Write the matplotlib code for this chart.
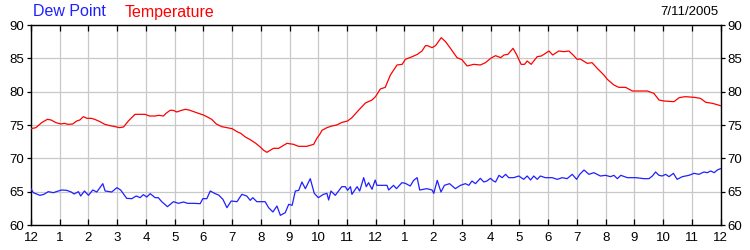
import matplotlib
matplotlib.use("Agg")
import matplotlib.pyplot as plt

# ---- data (hours since midnight, degrees F) ----
temp_hours = [0, 0.17, 0.37, 0.57, 0.7, 0.87, 1.04, 1.16, 1.28, 1.45, 1.59, 1.7, 1.82, 1.95,
               2.1, 2.22, 2.4, 2.57, 2.75, 2.93, 3.08, 3.22, 3.39, 3.62, 3.97, 4.12, 4.32, 4.45,
               4.61, 4.7, 4.84, 4.95, 5.08, 5.2, 5.37, 5.5, 5.66, 5.83, 6.0, 6.12, 6.29, 6.45,
               6.64, 6.87, 7.0, 7.17, 7.3, 7.46, 7.63, 7.81, 7.98, 8.1, 8.21, 8.44, 8.62, 8.91,
               9.14, 9.31, 9.6, 9.84, 9.95, 10.05, 10.13, 10.3, 10.47, 10.64, 10.83, 11.02,
               11.17, 11.4, 11.64, 11.87, 11.99, 12.16, 12.33, 12.51, 12.74, 12.92, 13.03,
               13.27, 13.45, 13.61, 13.73, 13.8, 13.96, 14.08, 14.28, 14.43, 14.6, 14.83, 15.0,
               15.18, 15.41, 15.64, 15.82, 16.0, 16.17, 16.35, 16.46, 16.6, 16.78, 16.91,
               17.06, 17.18, 17.27, 17.41, 17.62, 17.76, 17.91, 18.03, 18.16, 18.37, 18.55,
               18.72, 18.87, 19.01, 19.12, 19.36, 19.53, 19.71, 19.94, 20.06, 20.29, 20.46,
               20.7, 20.76, 20.93, 21.45, 21.68, 21.86, 22.03, 22.38, 22.56, 22.77, 23.08,
               23.3, 23.49, 23.72, 24.0]
temp_values = [74.45, 74.6, 75.35, 75.85, 75.75, 75.35, 75.15, 75.25, 75.1, 75.15, 75.6, 75.75,
               76.25, 76.0, 76.0, 75.85, 75.5, 75.1, 74.9, 74.75, 74.6, 74.7, 75.6, 76.6, 76.6,
               76.35, 76.35, 76.45, 76.35, 76.75, 77.2, 77.2, 76.95, 77.15, 77.35, 77.25, 77.0,
               76.75, 76.5, 76.25, 75.85, 75.15, 74.75, 74.55, 74.45, 74.0, 73.75, 73.2, 72.8,
               72.3, 71.7, 71.2, 70.9, 71.5, 71.5, 72.25, 72.1, 71.8, 71.8, 72.1, 73.0, 73.6,
               74.2, 74.6, 74.85, 75.0, 75.4, 75.6, 76.1, 77.2, 78.3, 78.75, 79.25, 80.4, 80.65,
               82.5, 84.0, 84.1, 84.85, 85.25, 85.6, 86.1, 86.9, 86.9, 86.6, 86.9, 88.1, 87.5,
               86.5, 85.1, 84.8, 83.85, 84.1, 84.0, 84.35, 85.0, 85.4, 85.1, 85.5, 85.6, 86.5,
               85.5, 84.1, 84.1, 84.6, 84.1, 85.25, 85.35, 85.75, 86.1, 85.5, 86.1, 86.0, 86.1,
               85.5, 84.85, 84.9, 84.25, 84.35, 83.5, 82.5, 81.85, 81.0, 80.65, 80.65, 80.5,
               80.1, 80.1, 79.75, 78.75, 78.6, 78.5, 79.1, 79.25, 79.15, 79.0, 78.4, 78.25, 77.9]

dew_hours = [0, 0.08, 0.31, 0.45, 0.6, 0.78, 0.95, 1.07, 1.24, 1.4, 1.5, 1.65, 1.73, 1.86, 2.0,
             2.15, 2.29, 2.4, 2.5, 2.58, 2.81, 2.99, 3.12, 3.33, 3.51, 3.66, 3.8, 3.91, 4.03,
             4.15, 4.32, 4.43, 4.55, 4.75, 4.96, 5.13, 5.31, 5.45, 5.66, 5.89, 5.98, 6.12,
             6.24, 6.41, 6.53, 6.68, 6.82, 6.97, 7.17, 7.34, 7.51, 7.63, 7.72, 7.86, 7.98,
             8.15, 8.27, 8.42, 8.56, 8.68, 8.85, 8.97, 9.09, 9.2, 9.32, 9.43, 9.55, 9.72,
             9.86, 10.0, 10.18, 10.3, 10.36, 10.44, 10.59, 10.82, 10.94, 11.02, 11.12, 11.17,
             11.35, 11.44, 11.58, 11.67, 11.75, 11.87, 11.98, 12.04, 12.39, 12.45, 12.62,
             12.72, 12.91, 13.03, 13.2, 13.32, 13.44, 13.53, 13.78, 13.96, 14.02, 14.14,
             14.27, 14.39, 14.57, 14.77, 14.95, 15.12, 15.24, 15.35, 15.47, 15.64, 15.76,
             15.87, 15.99, 16.1, 16.17, 16.29, 16.4, 16.52, 16.63, 16.8, 16.98, 17.15, 17.27,
             17.39, 17.5, 17.62, 17.73, 17.9, 18.14, 18.32, 18.49, 18.66, 18.84, 18.99, 19.1,
             19.25, 19.42, 19.59, 19.82, 20.0, 20.17, 20.29, 20.41, 20.53, 20.76, 21.05,
             21.34, 21.51, 21.63, 21.74, 21.86, 21.97, 22.09, 22.21, 22.36, 22.49, 22.67,
             22.9, 23.08, 23.25, 23.42, 23.54, 23.66, 23.78, 23.89, 24.0]
dew_values = [65.45, 64.85, 64.45, 64.6, 65.0, 64.85, 65.1, 65.25, 65.2, 64.95, 64.65, 65.0,
              64.35, 65.1, 64.45, 65.25, 64.95, 65.6, 66.2, 65.1, 64.95, 65.6, 65.25, 64.0,
              63.95, 64.35, 64.1, 64.55, 64.2, 64.7, 64.1, 64.1, 63.5, 62.75, 63.5, 63.25,
              63.45, 63.25, 63.25, 63.2, 63.95, 63.95, 65.1, 64.7, 64.5, 63.85, 62.6, 63.6,
              63.5, 64.6, 64.35, 63.7, 64.1, 63.5, 63.5, 63.5, 62.6, 61.95, 62.85, 61.45,
              61.85, 63.1, 62.95, 65.1, 65.2, 66.45, 65.45, 66.95, 64.75, 64.1, 64.6, 64.75,
              63.75, 65.1, 64.45, 65.75, 65.75, 65.2, 65.75, 64.6, 65.75, 65.1, 67.1, 65.75,
              66.35, 65.35, 66.75, 65.95, 65.95, 65.25, 65.95, 65.45, 66.35, 66.25, 65.85,
              66.7, 67.1, 65.25, 65.45, 65.25, 64.75, 66.7, 64.95, 65.95, 66.2, 65.45, 65.95,
              66.2, 65.95, 66.6, 66.2, 67.0, 66.45, 66.6, 67.0, 66.6, 66.45, 67.45, 67.1,
              67.6, 67.1, 67.1, 67.35, 66.85, 67.35, 66.75, 67.35, 66.85, 67.35, 67.1, 67.1,
              66.85, 67.1, 66.95, 67.6, 66.85, 67.6, 68.25, 67.6, 67.85, 67.35, 67.45, 67.25,
              67.45, 66.95, 67.45, 67.1, 67.1, 66.95, 66.95, 67.35, 67.95, 67.45, 67.35,
              67.6, 67.25, 67.75, 66.85, 67.25, 67.45, 67.75, 67.6, 67.95, 67.85, 68.1,
              67.85, 68.25, 68.45]

hour_ticks = list(range(0, 25))
hour_labels = ["12", "1", "2", "3", "4", "5", "6", "7", "8", "9", "10", "11",
               "12", "1", "2", "3", "4", "5", "6", "7", "8", "9", "10", "11", "12"]
y_ticks = [60, 65, 70, 75, 80, 85, 90]
date_text = "7/11/2005"

plt.rcParams['font.family'] = ['Liberation Sans', 'DejaVu Sans']

fig = plt.figure(figsize=(7.5, 2.5), dpi=100)
ax = fig.add_axes([31 / 750, 25 / 250, 689.5 / 750, 200 / 250])

ax.plot(temp_hours, temp_values, color="#ff0000", lw=0.9, zorder=3)
ax.plot(dew_hours, dew_values, color="#2020ff", lw=0.9, zorder=3)

ax.set_xlim(0, 24)
ax.set_ylim(60, 90)
ax.set_xticks(hour_ticks)
ax.set_xticklabels(hour_labels)
ax.set_yticks(y_ticks)
ax.grid(True, color="#c8c8c8", lw=0.9, zorder=0)
ax.set_axisbelow(True)

ax.tick_params(axis="x", direction="in", top=True, bottom=True, length=4, width=0.9,
               labelsize=9.5, pad=5, colors="black")
ax.tick_params(axis="y", direction="out", left=True, right=True, labelleft=True,
               labelright=True, length=3, width=0.9, labelsize=9.5, pad=2)
for s in ax.spines.values():
    s.set_color("black")
    s.set_linewidth(1.0)

fig.text(33 / 750, 1 - 12 / 250, "Dew Point", color="#2020ff", fontsize=11.5, va="center", ha="left")
fig.text(125 / 750, 1 - 12 / 250, "Temperature", color="#ff0000", fontsize=11.5, va="center", ha="left")
fig.text(718 / 750, 1 - 12 / 250, date_text, color="black", fontsize=9.5, va="center", ha="right")

fig.savefig("out.png", dpi=100)
